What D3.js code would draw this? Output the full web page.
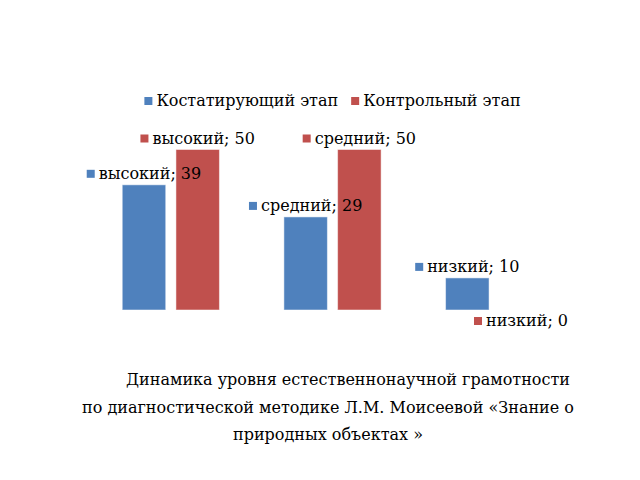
<!DOCTYPE html>
<html>
<head>
<meta charset="utf-8">
<script src="https://cdn.jsdelivr.net/npm/d3@7"></script>
<style>
  body { margin: 0; background: #fff; }
  text { font-family: "DejaVu Serif", serif; fill: #000; }
</style>
</head>
<body>
<div id="chart"></div>
<script>
// chart data
const categories = ["высокий", "средний", "низкий"];
const seriesNames = ["Костатирующий этап", "Контрольный этап"];
const stageStart = [39, 29, 10];
const stageControl = [50, 50, 0];
const titleLines = [
    "Динамика уровня естественнонаучной грамотности",
    "по диагностической методике Л.М. Моисеевой «Знание о",
    "природных объектах »"
];

const colors = ["#4F81BD", "#C0504D"];
const width = 640, height = 480;

const svg = d3.select("#chart")
    .append("svg")
    .attr("width", width)
    .attr("height", height);

const x0 = d3.scaleBand()
    .domain(categories)
    .range([90, 575])
    .padding(0);

const x1 = d3.scaleBand()
    .domain(d3.range(seriesNames.length))
    .range([0, x0.bandwidth()])
    .paddingInner(0.19)
    .paddingOuter(0.6);

const y = d3.scaleLinear()
    .domain([0, 60])
    .range([310, 117.4]);

const series = [stageStart, stageControl];
const points = [];
series.forEach((vals, s) => {
    vals.forEach((v, i) => points.push({ s, cat: categories[i], v }));
});

// Bars
svg.append("g")
    .selectAll("rect")
    .data(points.filter(d => d.v > 0))
    .join("rect")
    .attr("x", d => x0(d.cat) + x1(d.s))
    .attr("y", d => y(d.v))
    .attr("width", x1.bandwidth())
    .attr("height", d => y(0) - y(d.v))
    .attr("fill", d => colors[d.s])
    .attr("stroke", "#fff")
    .attr("stroke-opacity", 0.5)
    .attr("stroke-width", 1);

// Data labels: marker + "category; value", centred over the bar
const fontSize = 16;
const label = svg.append("g")
    .selectAll("g")
    .data(points)
    .join("g");

label.append("rect")
    .attr("width", 8)
    .attr("height", 8)
    .attr("y", -9)
    .attr("fill", d => colors[d.s]);

label.append("text")
    .attr("x", 12)
    .attr("font-size", fontSize)
    .text(d => `${d.cat}; ${d.v}`);

label.attr("transform", function(d) {
    const w = 12 + this.querySelector("text").getComputedTextLength();
    const cx = x0(d.cat) + x1(d.s) + x1.bandwidth() / 2;
    const by = d.v === 0 ? y(0) + 16 : y(d.v) - 6;
    return `translate(${cx - w / 2},${by})`;
});

// Legend
const legend = svg.append("g");
const items = legend.selectAll("g")
    .data(seriesNames)
    .join("g");
items.append("rect")
    .attr("width", 8)
    .attr("height", 8)
    .attr("y", -9)
    .attr("fill", (d, i) => colors[i]);
items.append("text")
    .attr("x", 12)
    .attr("font-size", fontSize)
    .text(d => d);

let offset = 0;
const gap = 13;
items.each(function() {
    const w = 12 + this.querySelector("text").getComputedTextLength();
    d3.select(this).attr("transform", `translate(${offset},0)`);
    offset += w + gap;
});
const legendW = offset - gap;
legend.attr("transform", `translate(${(x0.range()[0] + x0.range()[1]) / 2 - legendW / 2},106)`);

// Title under the chart
svg.append("g")
    .selectAll("text")
    .data(titleLines)
    .join("text")
    .attr("x", 328)
    .attr("dx", (d, i) => i === 0 ? 20 : 0)
    .attr("y", (d, i) => 385 + i * 27.5)
    .attr("text-anchor", "middle")
    .attr("font-size", fontSize)
    .text(d => d);
</script>
</body>
</html>
